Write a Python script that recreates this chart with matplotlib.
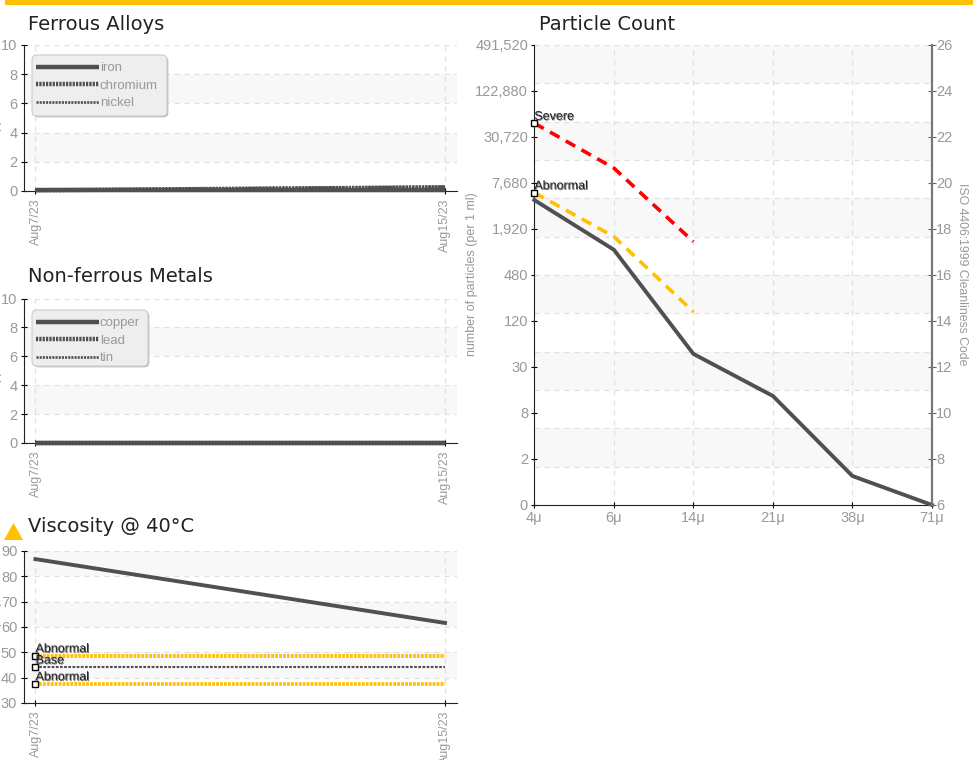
import datetime
import numpy as np
import matplotlib
matplotlib.use("Agg")
import matplotlib.pyplot as plt
import matplotlib.dates as mdates
import matplotlib.patheffects as pe
from matplotlib.patches import Polygon, Rectangle, FancyBboxPatch
from matplotlib.transforms import IdentityTransform

W, H = 976, 760
NARROW = ['Liberation Sans', 'DejaVu Sans']
GREY = '#999999'
DARK = '#505050'
YELLOW = '#ffc000'
BAND = '#f8f8f8'
GRID = '#e0e0e0'

dates = [datetime.date(2023, 8, 7), datetime.date(2023, 8, 15)]
date_labels = ['Aug7/23', 'Aug15/23']

iron = [0.08, 0.08]
chromium = [0.05, 0.25]
nickel = [0.08, 0.3]
copper = [0, 0]
lead = [0, 0]
tin = [0, 0]

viscosity = [86.8, 61.6]
visc_abnormal_hi = [48.7, 48.7]
visc_base = [44.2, 44.2]
visc_abnormal_lo = [37.6, 37.6]

sizes = ['4μ', '6μ', '14μ', '21μ', '38μ', '71μ']
count_labels = ['0', '2', '8', '30', '120', '480', '1,920', '7,680', '30,720', '122,880', '491,520']
iso_ticks = [6, 8, 10, 12, 14, 16, 18, 20, 22, 24, 26]
iso_actual = [19.26, 17.1, 12.57, 10.74, 7.26, 6.0]
iso_severe = [22.6, 20.65, 17.45]
iso_abnormal = [19.58, 17.67, 14.4]

fig = plt.figure(figsize=(W / 100, H / 100), dpi=100, facecolor='white')


def box(left, top, right, bottom):
    return [left / W, 1 - bottom / H, (right - left) / W, (bottom - top) / H]


def style_axes(ax):
    for s in ['top', 'right']:
        ax.spines[s].set_visible(False)
    ax.spines['left'].set_color('#222222')
    ax.spines['bottom'].set_color('#222222')
    ax.set_axisbelow(True)
    ax.grid(True, color=GRID, linestyle=(0, (4, 4)), linewidth=0.9)


def date_panel(pos, title, title_y, ymin, ymax, step, bands):
    ax = fig.add_axes(box(*pos))
    style_axes(ax)
    x = mdates.date2num(dates)
    ax.set_xlim(x[0] - 0.234, x[1] + 0.234)
    ax.set_ylim(ymin, ymax)
    ax.set_yticks(np.arange(ymin, ymax + 1, step))
    ax.set_xticks(x)
    ax.set_xticklabels(date_labels, rotation=90, family=NARROW, fontsize=9, color=GREY)
    ax.tick_params(axis='y', labelsize=10.5, labelcolor=GREY, length=4, direction='inout', pad=2.5)
    ax.tick_params(axis='x', length=5, direction='inout', pad=3)
    for lab in ax.get_yticklabels():
        lab.set_family(NARROW)
    for lo, hi in bands:
        ax.axhspan(lo, hi, color=BAND, zorder=0, linewidth=0)
    fig.text(28 / W, 1 - title_y / H, title, fontsize=14, color='#222222', va='center')
    return ax, x


def metal_lines(ax, x, a, b, c, names, frame):
    ax.plot(x, a, color=DARK, lw=3.2, clip_on=False, solid_capstyle='butt', label=names[0], zorder=3)
    ax.plot(x, b, color=DARK, lw=3.2, clip_on=False, linestyle=(0, (0.5, 0.25)), label=names[1], zorder=3)
    ax.plot(x, c, color=DARK, lw=1.9, clip_on=False, linestyle=(0, (0.8, 0.4)), label=names[2], zorder=3)
    left, top, right, bottom = frame
    ax.add_patch(FancyBboxPatch((left, H - bottom), right - left, bottom - top, transform=IdentityTransform(),
                                boxstyle='round,pad=0,rounding_size=5', facecolor='#eeeeee',
                                edgecolor='#cccccc', linewidth=0.8, clip_on=False, zorder=4,
                                path_effects=[pe.withSimplePatchShadow(offset=(1, -1), shadow_rgbFace='#999999', alpha=0.6)]))
    leg = ax.legend(loc='upper left', bbox_to_anchor=((left - ax.bbox.x0) / ax.bbox.width,
                                                     (H - top - 3 - ax.bbox.y0) / ax.bbox.height),
                    handlelength=4.8, labelspacing=0.4, borderpad=0.3, handletextpad=0.05,
                    frameon=False, borderaxespad=0, prop={'family': NARROW, 'size': 9.5})
    leg.set_zorder(6)
    for t in leg.get_texts():
        t.set_color(GREY)


# top bar and warning triangle
fig.add_artist(Rectangle((5 / W, 1 - 5 / H), 968 / W, 5 / H, transform=fig.transFigure,
                         facecolor=YELLOW, edgecolor='none'))
fig.add_artist(Polygon([[4 / W, 1 - 540 / H], [23 / W, 1 - 540 / H], [13.5 / W, 1 - 523 / H]],
                       transform=fig.transFigure, facecolor=YELLOW, edgecolor='none'))

# ferrous
ax1, x1 = date_panel((23.5, 45, 457, 191), 'Ferrous Alloys', 24, 0, 10, 2, [(2, 4), (6, 8)])
metal_lines(ax1, x1, iron, chromium, nickel, ['iron', 'chromium', 'nickel'], (32, 55, 167, 116))

# non ferrous
ax2, x2 = date_panel((23.5, 298.5, 457, 443), 'Non-ferrous Metals', 277, 0, 10, 2, [(2, 4), (6, 8)])
metal_lines(ax2, x2, copper, lead, tin, ['copper', 'lead', 'tin'], (32, 310, 148, 366))

# viscosity
ax3, x3 = date_panel((23.5, 551, 457, 703), 'Viscosity @ 40°C', 527, 30, 90, 10, [(40, 50), (60, 70), (80, 90)])
ax3.plot(x3, viscosity, color=DARK, lw=2.8, zorder=3)
ax3.plot(x3, visc_abnormal_hi, color=YELLOW, lw=2.7, linestyle=(0, (0.75, 0.3)), zorder=3)
ax3.plot(x3, visc_base, color=DARK, lw=1.5, linestyle=(0, (1.3, 0.7)), zorder=3)
ax3.plot(x3, visc_abnormal_lo, color=YELLOW, lw=2.7, linestyle=(0, (0.75, 0.3)), zorder=3)
shadow = [pe.withSimplePatchShadow(offset=(0.6, -0.6), shadow_rgbFace='#555555', alpha=0.8)]
for vals, name in [(visc_abnormal_hi, 'Abnormal'), (visc_base, 'Base'), (visc_abnormal_lo, 'Abnormal')]:
    ax3.plot(x3[:1], vals[:1], 's', ms=4, mfc='white', mec='black', mew=1, zorder=4)
    ax3.annotate(name, (x3[0], vals[0]), xytext=(0, 2.5), textcoords='offset points', fontsize=9,
                 family=NARROW, color='#222222', zorder=5, path_effects=shadow)

# axis captions on the left edge, cut off in the same way
for yc, cap in [(118, 'ppm'), (369, 'ppm'), (614, '(cSt)')]:
    fig.text(-5 / W, 1 - yc / H, cap, rotation=90, family=NARROW, fontsize=9.5, color=GREY,
             ha='center', va='center')

# particle count
ax4 = fig.add_axes(box(534.3, 45, 932, 505))
style_axes(ax4)
ax4.set_xlim(0, len(sizes) - 1)
ax4.set_ylim(iso_ticks[0], iso_ticks[-1])
ax4.set_xticks(range(len(sizes)))
ax4.set_xticklabels(sizes, family=NARROW, fontsize=10.5, color=GREY)
ax4.set_yticks(iso_ticks)
ax4.set_yticklabels(count_labels, family=NARROW, fontsize=10.5, color=GREY)
ax4.tick_params(axis='both', length=5, direction='inout', pad=2)
ax4.grid(False)
ax4.grid(True, axis='x', color=GRID, linestyle=(0, (4, 4)), linewidth=0.9)
grid_levels = np.linspace(iso_ticks[0], iso_ticks[-1], 13)
for g in grid_levels:
    ax4.axhline(g, color=GRID, linestyle=(0, (4, 4)), linewidth=0.9, zorder=1)
for i in range(1, 12, 2):
    ax4.axhspan(grid_levels[i], grid_levels[i + 1], color=BAND, zorder=0, linewidth=0)
ax4.plot(range(len(iso_actual)), iso_actual, color=DARK, lw=2.8, zorder=3, clip_on=False)
ax4.plot(range(len(iso_severe)), iso_severe, color='#ff0000', lw=2.6, linestyle=(0, (3, 2)), zorder=3, clip_on=False)
ax4.plot(range(len(iso_abnormal)), iso_abnormal, color=YELLOW, lw=2.6, linestyle=(0, (3, 2)), zorder=3, clip_on=False)
for vals, name in [(iso_severe, 'Severe'), (iso_abnormal, 'Abnormal')]:
    ax4.plot([0], vals[:1], 's', ms=4, mfc='white', mec='black', mew=1, zorder=4, clip_on=False)
    ax4.annotate(name, (0, vals[0]), xytext=(0, 2.5), textcoords='offset points', fontsize=9,
                 family=NARROW, color='#222222', zorder=5, path_effects=shadow)

right = ax4.twinx()
right.set_ylim(iso_ticks[0], iso_ticks[-1])
right.set_yticks(iso_ticks)
right.set_yticklabels([str(v) for v in iso_ticks], family=NARROW, fontsize=10.5, color=GREY)
right.tick_params(axis='y', length=6, direction='inout', pad=0, color='#666666')
for s in ['top', 'left', 'bottom']:
    right.spines[s].set_visible(False)
right.spines['right'].set_color('#777777')
right.spines['right'].set_linewidth(1.6)

fig.text(539 / W, 1 - 24 / H, 'Particle Count', fontsize=14, color='#222222', va='center')
fig.text(472 / W, 1 - 274 / H, 'number of particles (per 1 ml)', rotation=90, family=NARROW,
         fontsize=9, color=GREY, ha='center', va='center')
fig.text(962 / W, 1 - 274 / H, 'ISO 4406:1999 Cleanliness Code', rotation=270, family=NARROW,
         fontsize=8.8, color=GREY, ha='center', va='center')

fig.savefig('out.png', dpi=100)
